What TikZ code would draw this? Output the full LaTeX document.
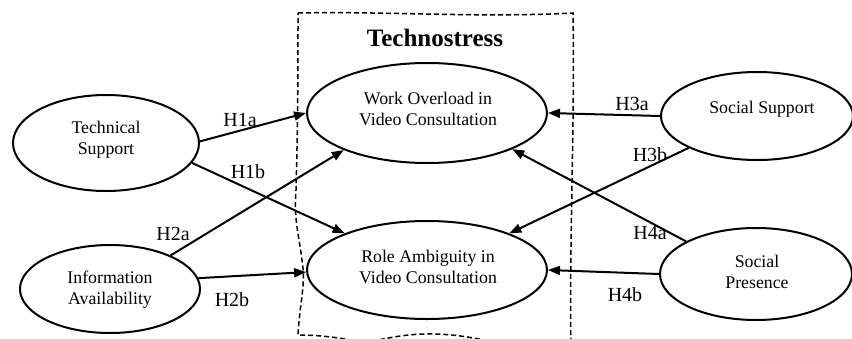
\documentclass[tikz,border=0pt]{standalone}
\usepackage{fontspec}
\setmainfont{Liberation Serif}
\usetikzlibrary{shapes.geometric,arrows.meta}
\begin{document}
\begin{tikzpicture}[x=1pt,y=-1pt,
 oval/.style={ellipse,draw,line width=2pt,inner sep=0pt},
 txt/.style={align=center,font=\fontsize{17.8}{21}\selectfont,inner sep=0pt},
 hyp/.style={font=\fontsize{20}{22}\selectfont,inner sep=0pt},
 link/.style={line width=2pt,-{Triangle[length=12pt,width=9pt]}},
 wall/.style={dash pattern=on 5pt off 3pt,line width=1.5pt}]
\useasboundingbox (0,0) rectangle (852,338);
\clip (0,0) rectangle (852,338);
% dashed wavy frame
\draw[wall] (298,13) .. controls (380,11) and (480,18) .. (573,13)
  .. controls (575,120) and (569,250) .. (571,350)
  .. controls (500,350) and (480,333) .. (425,334)
  .. controls (385,335) and (375,345) .. (350,340)
  .. controls (330,336) and (310,335) .. (298,335)
  .. controls (300,300) and (306,285) .. (302,260)
  .. controls (298,230) and (294,220) .. (296,190)
  .. controls (298,120) and (298,60) .. (298,13);
\node[font=\fontsize{25}{28}\selectfont\bfseries,inner sep=0pt] (title) at (435,38) {Technostress};
% ellipses
\node[oval,minimum width=186pt,minimum height=96pt] (ts) at (106,143) {};
\node[oval,minimum width=180pt,minimum height=88pt] (ia) at (110,289) {};
\node[oval,minimum width=240pt,minimum height=100pt] (wo) at (427,113) {};
\node[oval,minimum width=240pt,minimum height=98pt] (ra) at (427,270) {};
\node[oval,minimum width=192pt,minimum height=88pt] (ss) at (757,116) {};
\node[oval,minimum width=192pt,minimum height=92pt] (sp) at (756,274) {};
% texts
\node[txt] (ts-t) at (106,140) {Technical\\Support};
\node[txt] (ia-t) at (110,290) {Information\\Availability};
\node[txt] (wo-t) at (428,109) {Work Overload in\\Video Consultation};
\node[txt] (ra-t) at (428,267) {Role Ambiguity in\\Video Consultation};
\node[txt] (ss-t) at (762,109) {Social Support};
\node[txt] (sp-t) at (757,272) {Social\\Presence};
% arrows
\draw[link] (ts.1) -- (wo.west);
\draw[link] (ts.-13) -- (ra.156);
\draw[link] (ia.29) -- (wo.204);
\draw[link] (ia.7) -- (ra.181);
\draw[link] (ss.west) -- (wo.east);
\draw[link] (ss.205) -- (ra.24);
\draw[link] (sp.155) -- (wo.-23);
\draw[link] (sp.west) -- (ra.east);
% labels
\node[hyp] (h1a) at (240,120) {H1a};
\node[hyp] (h1b) at (248,172) {H1b};
\node[hyp] (h2a) at (173,234) {H2a};
\node[hyp] (h2b) at (232,300) {H2b};
\node[hyp] (h3a) at (632,104) {H3a};
\node[hyp] (h3b) at (650,155) {H3b};
\node[hyp] (h4a) at (650,233) {H4a};
\node[hyp] (h4b) at (625,295) {H4b};
\end{tikzpicture}
\end{document}
